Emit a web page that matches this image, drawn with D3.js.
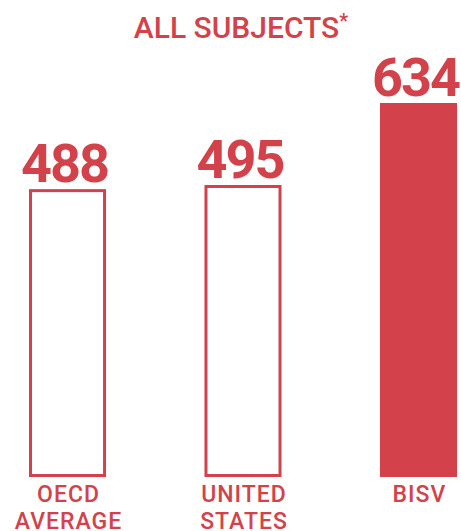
<!DOCTYPE html>
<html>
<head>
<meta charset="utf-8">
<script src="https://cdn.jsdelivr.net/npm/d3@7"></script>
<style>
  html, body { margin: 0; padding: 0; background: #fff; }
  svg { display: block; font-family: Roboto, "Noto Sans", sans-serif; }
</style>
</head>
<body>
<div id="chart"></div>
<script>
const categories = [["OECD", "AVERAGE"], ["UNITED", "STATES"], ["BISV"]];
const scores = [488, 495, 634];
const filled = [false, false, true];
const title = "ALL SUBJECTS";

const red = '#d3424a';
const width = 461, height = 531;
const base = 477;

const svg = d3.select('#chart').append('svg')
  .attr('width', width)
  .attr('height', height);

const xScale = d3.scaleBand()
  .domain(d3.range(scores.length))
  .range([29, 457])
  .paddingInner(0.561)
  .paddingOuter(0);

const yScale = d3.scaleLinear()
  .domain([0, 634])
  .range([base, 103]);

// title with superscript asterisk
const t = svg.append('text')
  .attr('x', 241)
  .attr('y', 38)
  .attr('text-anchor', 'middle')
  .attr('font-size', 30)
  .attr('font-weight', 500)
  .attr('fill', red)
  .text(title);
t.append('tspan')
  .attr('font-size', 20)
  .attr('dy', -10)
  .text('*');

const g = svg.selectAll('.bar-group')
  .data(scores)
  .join('g')
  .attr('class', 'bar-group');

g.append('rect')
  .attr('x', (d, i) => xScale(i) + (filled[i] ? 0 : 1.5))
  .attr('width', (d, i) => xScale.bandwidth() - (filled[i] ? 0 : 3))
  .attr('y', (d, i) => yScale(d) + (filled[i] ? 0 : 1.5))
  .attr('height', (d, i) => base - yScale(d) - (filled[i] ? 0 : 3))
  .attr('fill', (d, i) => filled[i] ? red : '#fff')
  .attr('stroke', red)
  .attr('stroke-width', (d, i) => filled[i] ? 0 : 3);

g.append('text')
  .attr('x', (d, i) => xScale(i) + xScale.bandwidth() / 2 - 3)
  .attr('y', (d, i) => yScale(d) - 7)
  .attr('text-anchor', 'middle')
  .attr('font-size', 54)
  .attr('font-weight', 700)
  .attr('letter-spacing', -2)
  .attr('fill', red)
  .text(d => d);

g.each(function(d, i) {
  const lbl = d3.select(this).append('text')
    .attr('text-anchor', 'middle')
    .attr('font-size', 23)
    .attr('font-weight', 500)
    .attr('letter-spacing', 1)
    .attr('fill', red);
  lbl.selectAll('tspan')
    .data(categories[i])
    .join('tspan')
    .attr('x', xScale(i) + xScale.bandwidth() / 2 + 1)
    .attr('y', (s, j) => 502 + j * 27)
    .text(s => s);
});
</script>
</body>
</html>
